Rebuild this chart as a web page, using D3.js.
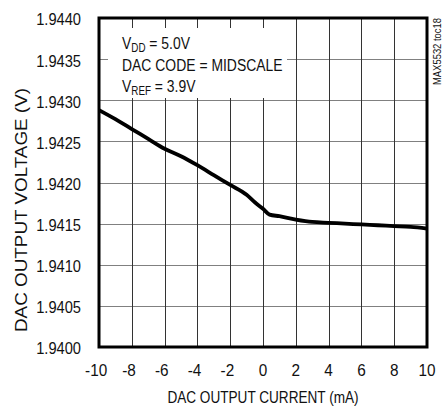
<!DOCTYPE html>
<html><head><meta charset="utf-8">
<script src="https://cdn.jsdelivr.net/npm/d3@7"></script>
<style>
html,body{margin:0;padding:0;background:#fff;}
text{font-family:"Liberation Sans",Arial,Helvetica,sans-serif;fill:#111;}
</style></head>
<body>
<svg id="chart" width="446" height="406"></svg>
<script>
const currents = [-10,-9,-8,-7,-6,-5,-4,-3,-2,-1,-0.5,0,0.4,1,2,3,4,5,6,7,8,9,10];
const voltages = [1.94288,1.94277,1.94265,1.94253,1.94241,1.94232,1.94221,1.94209,1.94197,1.94185,1.94176,1.94168,1.94161,1.94159,1.94155,1.94152,1.94151,1.94150,1.94149,1.94148,1.94147,1.94146,1.94144];
const xTicks = [-10,-8,-6,-4,-2,0,2,4,6,8,10];
const yTicks = [1.9400,1.9405,1.9410,1.9415,1.9420,1.9425,1.9430,1.9435,1.9440];
const xTitle = "DAC OUTPUT CURRENT (mA)";
const yTitle = "DAC OUTPUT VOLTAGE (V)";
const tocLabel = "MAX5532 toc18";

const svg = d3.select("#chart");
const L = 99, R = 427, T = 18, B = 347;
const x = d3.scaleLinear().domain([-10,10]).range([L,R]);
const y = d3.scaleLinear().domain([1.9400,1.9440]).range([B,T]);

// grid
svg.append("g").selectAll("line").data(yTicks).join("line")
  .attr("x1",L).attr("x2",R).attr("y1",d=>Math.round(y(d))+0.5).attr("y2",d=>Math.round(y(d))+0.5)
  .attr("stroke","#808080").attr("stroke-width",1.2);
svg.append("g").selectAll("line").data(xTicks).join("line")
  .attr("y1",T).attr("y2",B).attr("x1",d=>Math.round(x(d))+0.5).attr("x2",d=>Math.round(x(d))+0.5)
  .attr("stroke","#333").attr("stroke-width",1);

// annotation box background
svg.append("rect").attr("x",108).attr("y",28).attr("width",179).attr("height",70).attr("fill","#fff");
const sx = 0.82;
const ann = svg.append("g").attr("font-size",17);
const t1 = ann.append("text").attr("transform",`translate(122,49) scale(${sx},1)`);
t1.append("tspan").text("V");
t1.append("tspan").attr("font-size",12).attr("dy",3).text("DD");
t1.append("tspan").attr("dy",-3).text(" = 5.0V");
ann.append("text").attr("transform",`translate(122,70.5) scale(${sx},1)`).text("DAC CODE = MIDSCALE");
const t3 = ann.append("text").attr("transform",`translate(122,91.5) scale(${sx},1)`);
t3.append("tspan").text("V");
t3.append("tspan").attr("font-size",12).attr("dy",3).text("REF");
t3.append("tspan").attr("dy",-3).text(" = 3.9V");

// curve
const line = d3.line().x((d,i)=>x(currents[i])).y(d=>y(d)).curve(d3.curveMonotoneX);
svg.append("path").datum(voltages).attr("d",line).attr("fill","none")
  .attr("stroke","#000").attr("stroke-width",3.8).attr("stroke-linejoin","round");

// frame
svg.append("rect").attr("x",L).attr("y",T).attr("width",R-L).attr("height",B-T)
  .attr("fill","none").attr("stroke","#000").attr("stroke-width",3);

// axes labels
const yAxis = d3.axisLeft(y).tickValues(yTicks).tickFormat(d3.format(".4f")).tickSize(0).tickPadding(0);
const ga = svg.append("g").attr("transform",`translate(${L},0)`).call(yAxis);
ga.select(".domain").remove();
ga.selectAll("text").attr("font-size",16.3).attr("font-family",null).attr("fill","#111")
  .attr("dy","0.36em").attr("transform","translate(0,1) scale(0.9,1)")
  .attr("x", (81 - L)/0.9);
const xAxis = d3.axisBottom(x).tickValues(xTicks).tickFormat(d => String(d)).tickSize(0).tickPadding(0);
const gx = svg.append("g").attr("transform",`translate(0,${B})`).call(xAxis);
gx.select(".domain").remove();
gx.selectAll("text").attr("font-size",16.3).attr("font-family",null).attr("fill","#111")
  .attr("y",29).attr("dy",0).attr("transform","scale(0.94,1)")
  .attr("x", d => x(d)/0.94 - (d < 0 ? 3 : 0));
gx.selectAll(".tick").attr("transform", null);

svg.append("text").attr("transform",`translate(263,403) scale(0.8,1)`).attr("text-anchor","middle").attr("font-size",17).text(xTitle);
svg.append("text").attr("transform",`translate(26.5,210) rotate(-90)`).attr("text-anchor","middle").attr("font-size",16.3)
  .attr("textLength",244).attr("lengthAdjust","spacingAndGlyphs").text(yTitle);
svg.append("text").attr("transform",`translate(441,51.5) rotate(-90)`).attr("text-anchor","middle").attr("font-size",10.5)
  .attr("textLength",67).attr("lengthAdjust","spacingAndGlyphs").text(tocLabel);
</script>
</body></html>
